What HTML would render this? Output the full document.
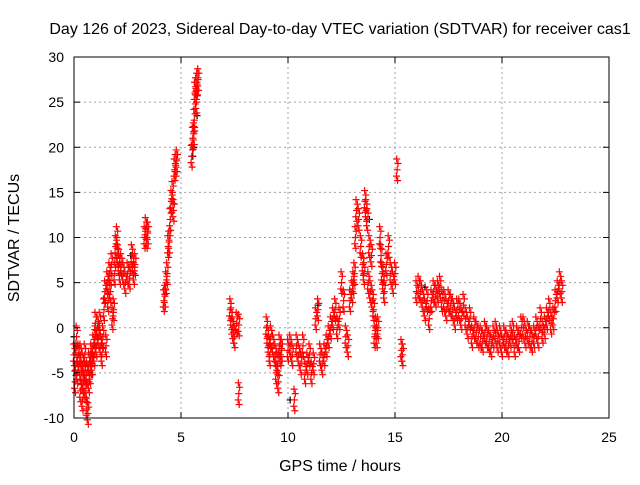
<!DOCTYPE html>
<html><head><meta charset="utf-8"><style>
body{margin:0;background:#fff;font-family:"Liberation Sans",sans-serif}
svg text{font-family:"Liberation Sans",sans-serif;font-size:14px;fill:#000}
svg text.big{font-size:16px}
</style></head><body>
<svg id="chart" width="640" height="480">
<rect x="0" y="0" width="640" height="480" fill="#fff"/>
<g id="grid"></g>
<g id="marks"></g>
<rect x="74" y="57" width="535" height="361" fill="none" stroke="#000" stroke-width="1"/>
<g id="ticks"></g>
<text class="big" x="340" y="34" text-anchor="middle">Day 126 of 2023, Sidereal Day-to-day VTEC variation (SDTVAR) for receiver cas1</text>
<text class="big" x="340" y="471" text-anchor="middle">GPS time / hours</text>
<text class="big" x="19" y="238" text-anchor="middle" transform="rotate(-90 19 238)">SDTVAR / TECUs</text>
</svg>
<script>
const xTicks=[0,5,10,15,20,25];
const yTicks=[-10,-5,0,5,10,15,20,25,30];
const times=[
0,0.05,0.1,0.12,0.15,0.2,0.25,0.3,0.3,0.35,
0.4,0.4,0.45,0.5,0.5,0.55,0.6,0.6,0.65,0.7,
0.7,0.75,0.8,0.8,0.85,0.9,0.95,1,1,1.05,
1.1,1.15,1.2,1.25,1.3,1.35,1.4,1.45,1.5,1.55,
1.6,1.65,1.7,1.75,1.8,1.85,1.9,1.95,2,2.05,
2.1,2.15,2.2,2.3,2.4,2.5,2.6,2.7,2.75,2.8,
2.85,3.3,3.35,3.4,3.45,
4.2,4.25,4.3,4.35,4.4,4.45,4.5,4.55,4.6,4.65,
4.7,4.75,4.8,5.5,5.55,5.6,5.62,5.65,5.7,5.72,
5.75,5.8,
7.3,7.35,7.4,7.45,7.5,7.6,7.7,7.7,
9,9.05,9.1,9.15,9.2,9.3,9.4,9.45,9.5,9.55,
9.6,9.65,9.7,
10,10.1,10.2,10.3,10.4,10.5,10.6,10.7,10.8,10.9,
11,11.1,11.2,11.3,11.4,11.5,11.6,11.7,11.8,11.9,
12,12.1,12.2,12.3,12.4,12.5,12.6,12.7,12.8,12.9,
13,13.05,13.1,13.15,13.2,13.3,13.4,13.5,13.55,13.6,
13.65,13.7,13.75,13.8,13.85,13.9,13.95,14,14.05,14.1,
14.15,14.2,14.3,14.35,14.4,14.45,14.5,14.6,14.7,14.8,
14.9,15,15.1,15.3,15.35,
16,16.1,16.2,16.3,16.4,16.5,16.6,16.7,16.8,16.9,
17,17.1,17.2,17.3,17.4,17.5,17.6,17.7,17.8,17.9,
18,18.1,18.2,18.3,18.4,18.5,18.6,18.7,18.8,18.9,
19,19.1,19.2,19.3,19.4,19.5,19.6,19.7,19.8,19.9,
20,20.1,20.2,20.3,20.4,20.5,20.6,20.7,20.8,20.9,
21,21.1,21.2,21.3,21.4,21.5,21.6,21.7,21.8,21.9,
22,22.1,22.2,22.3,22.4,22.5,22.6,22.7,22.8];
const values=[
-3,-6,-4,-1,-5,-3,-4,-7,-3,-5,
-8,-4,-6,-5,-3,-7,-9,-5,-9.5,-6,
-4,-5,-4,-3,-4,-2,-3,-1,0.5,-2,
0,-1,0.5,-2,-3,-1,2,4,-2,5,
3,6,4,7,1,2,6,9,10,8,
7,6,7,6,5,6,5.5,8,7,6,
7,10,11,10,10.5,
3,3.5,5,6,9,9.5,12,14,15,13,
17.5,18,18.5,19,21,21.5,23,26,26.5,25,
27,27.5,
2,1,0,-0.5,-1,0.5,0.3,-7.3,
0,-1,-2,-3,-1,-2,-3,-5,-4,-6,
-2,-3,-2.5,
-2.5,-2,-3,-8,-2,-3,-4,-2,-5,-4,
-3,-5,-4,1,2,-3,-4,-3,-2,-1,
0,1,2,0,1,5,3,-1,-2,3,
4,5,6,10,13,12,9,7,6,14,
13,12,5,9,4,8,3,2,-1,0,
-1,0,10,8,6,5,4,7,9,6,
5,6,17.5,-2.5,-3,
4,4.5,4,3,2,3,1,3,4,3.5,
4,4.5,3,3,2,3,2.5,2,1,2,
2,1,2.5,1,0,1,-1,0,-0.5,-1,
-1,-1.5,-0.5,-1,-1.5,-2,-1,-0.5,-1.5,-1,
-2,-1,-1.5,-2,-1,-0.5,-2,-1,-1.5,0,
0,-1,-0.5,-1,-1.5,-1,0,-1,1,-0.5,
0,1,2,0.5,1,3,4,5,4];
const blackTimes=[0,0.1,5.55,5.6,5.75,10.1,11.4,13.8,16.4,2.65];
const blackValues=[-1,-2,19,20,23.5,-8,2.5,12,4.5,8];
const X0=74,X1=609,Y0=418,Y1=57;
const sx=t=>X0+(t-0)/(25-0)*(X1-X0);
const sy=v=>Y0-(v+10)/(30+10)*(Y0-Y1);
const NS='http://www.w3.org/2000/svg';
const grid=document.getElementById('grid'),ticks=document.getElementById('ticks'),marks=document.getElementById('marks');
function mk(tag,attrs,parent){const e=document.createElementNS(NS,tag);for(const k in attrs)e.setAttribute(k,attrs[k]);parent.appendChild(e);return e;}
xTicks.forEach(t=>{const x=sx(t);
 if(t>0&&t<25){const l=mk('line',{x1:x,x2:x,y1:Y1,y2:Y0,stroke:'#a0a0a0','stroke-dasharray':'2,3'},grid);
 
 }
 mk('line',{x1:x,x2:x,y1:Y0,y2:Y0-6,stroke:'#000'},ticks);mk('line',{x1:x,x2:x,y1:Y1,y2:Y1+6,stroke:'#000'},ticks);
 const tx=mk('text',{x:x,y:Y0+24,'text-anchor':'middle'},ticks);tx.textContent=t;
 
 });
yTicks.forEach(v=>{const y=sy(v);
 if(v>-10&&v<30){const l=mk('line',{x1:X0,x2:X1,y1:y,y2:y,stroke:'#a0a0a0','stroke-dasharray':'2,3'},grid);
 
 }
 mk('line',{x1:X0,x2:X0+6,y1:y,y2:y,stroke:'#000'},ticks);mk('line',{x1:X1,x2:X1-6,y1:y,y2:y,stroke:'#000'},ticks);
 const tx=mk('text',{x:X0-10,y:y+5,'text-anchor':'end'},ticks);tx.textContent=v;
 
 });
function plus(t,v,c,name){const x=sx(t),y=sy(v);
 const p=mk('path',{d:`M${x-3.5},${y}H${x+3.5}M${x},${y-3.5}V${y+3.5}`,stroke:c,'stroke-width':1.2,fill:'none'},marks);
 
 }
blackTimes.forEach((t,i)=>plus(t,blackValues[i],'#000','black-point'));
times.forEach((t,i)=>{const v=values[i];
 plus(t,v,'#f00','sdtvar-point');
 plus(t+0.04,v+0.7,'#f00','sdtvar-point');
 plus(t-0.03,v-0.7,'#f00','sdtvar-point');
 plus(t+0.02,v-1.2,'#f00','sdtvar-point');
 plus(t-0.02,v+1.2,'#f00','sdtvar-point');});
</script>
</body></html>
